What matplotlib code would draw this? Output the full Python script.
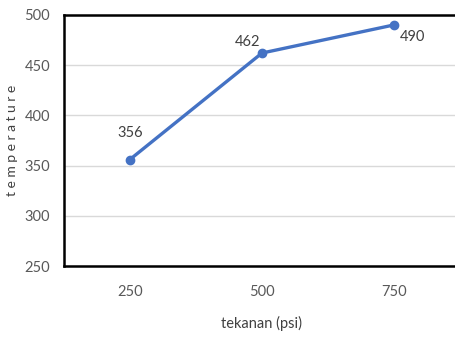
import matplotlib
matplotlib.use("Agg")
import matplotlib.pyplot as plt

# pressure categories and measured temperature
tekanan = ["250", "500", "750"]
temperature = [356, 462, 490]
y_ticks = [250, 300, 350, 400, 450, 500]

plt.rcParams['font.family'] = ['Lato', 'DejaVu Sans']

fig = plt.figure(figsize=(4.56, 3.38), dpi=100)
ax = fig.add_axes([0.140, 0.213, 0.869, 0.743])

x = list(range(len(tekanan)))
ax.plot(x, temperature, color='#4472C4', linewidth=2.4, marker='o',
        markersize=6, zorder=3)

# value labels placed around each point
offsets = [(0, 14, 'center', 'bottom'), (-1, 3, 'right', 'bottom'),
           (4, -4, 'left', 'top')]
for xi, v, (dx, dy, ha, va) in zip(x, temperature, offsets):
    ax.annotate(str(v), (xi, v), xytext=(dx, dy), textcoords='offset points',
                ha=ha, va=va, fontsize=10.5, color='#404040')

ax.set_xlim(-0.5, 2.5)
ax.set_ylim(250, 500)
ax.set_xticks(x)
ax.set_xticklabels(tekanan)
ax.set_yticks(y_ticks)
ax.yaxis.grid(True, color='#d9d9d9', linewidth=1)
ax.set_axisbelow(True)

ax.tick_params(axis='both', length=0, labelsize=10.5, colors='#595959')
ax.tick_params(axis='x', pad=14)
ax.tick_params(axis='y', pad=10)

for side in ['left', 'top', 'bottom']:
    ax.spines[side].set_color('black')
    ax.spines[side].set_linewidth(1.8)
ax.spines['right'].set_visible(False)

ax.set_xlabel('tekanan (psi)', fontsize=10.5, color='#404040', labelpad=12)
ax.set_ylabel('t e m p e r a t u r e', fontsize=10, color='#404040')
ax.yaxis.set_label_coords(-0.115, 0.5)

fig.savefig('out.png', dpi=100)
